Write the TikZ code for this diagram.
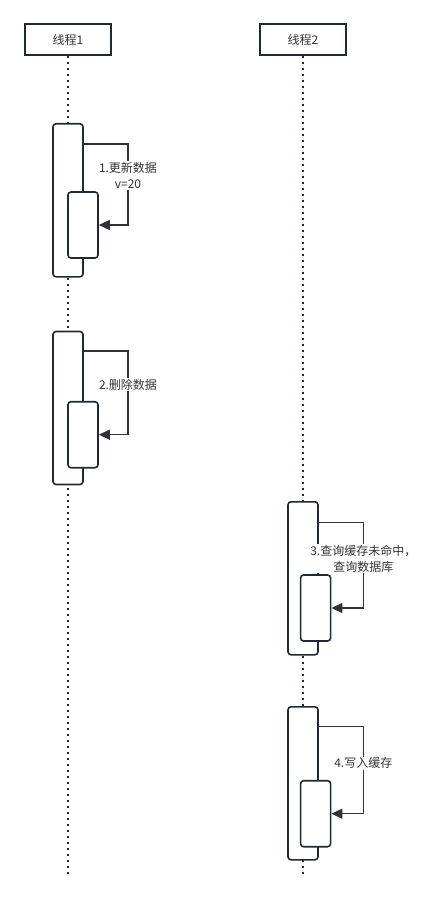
\documentclass[tikz,border=0pt]{standalone}
\usepackage{fontspec}
\setmainfont{Noto Sans CJK SC}
\usetikzlibrary{arrows.meta}
\definecolor{edge}{HTML}{1F2A35}
\definecolor{txt}{HTML}{333333}
\tikzset{
  head/.style={draw=edge, line width=1.6pt, fill=white, minimum width=86pt, minimum height=31pt, inner sep=0pt, text=txt, font=\fontsize{12pt}{14pt}\selectfont},
  life/.style={draw=edge, line width=2pt, dash pattern=on 2.5pt off 3.5pt},
  actbox/.style={draw=edge, line width=1.6pt, fill=white, rounded corners=3pt, minimum width=30pt, inner sep=0pt},
  msg/.style={draw=txt, line width=1.5pt, -{Triangle[length=11pt,width=10pt]}},
  lbl/.style={fill=white, text=txt, inner sep=1pt, align=center, font=\fontsize{12pt}{16pt}\selectfont}
}
\begin{document}
\begin{tikzpicture}[x=1pt,y=-1pt]
\useasboundingbox (0,0) rectangle (435,901);
% headers
\node[head] (h1) at (68,39.5) {线程1};
\node[head] (h2) at (303,39.5) {线程2};
\coordinate (e1) at (68,875);
\coordinate (e2) at (303,875);
\draw[life] (h1.south) -- (e1);
\draw[life] (h2.south) -- (e2);
% activations thread 1
\node[actbox, minimum height=153pt] (o1) at (68,200.3) {};
\node[actbox, minimum height=66pt] (i1) at (83,225) {};
\node[actbox, minimum height=153pt] (o2) at (68,408) {};
\node[actbox, minimum height=66pt] (i2) at (83,434.7) {};
% activations thread 2
\node[actbox, minimum height=153pt] (o3) at (303,578.3) {};
\node[actbox, minimum height=66pt] (i3) at (315.6,608) {};
\node[actbox, minimum height=153pt] (o4) at (303,783.3) {};
\node[actbox, minimum height=66pt] (i4) at (315.6,813.7) {};
% messages
\coordinate (c1) at (128,144);
\coordinate (c2) at (128,351);
\coordinate (c3) at (363.3,522.3);
\coordinate (c4) at (363.3,726.7);
\draw[msg] (o1.east |- c1) -- (c1) |- (i1.east);
\draw[msg] (o2.east |- c2) -- (c2) |- (i2.east);
\draw[msg] (o3.east |- c3) -- (c3) |- (i3.east);
\draw[msg] (o4.east |- c4) -- (c4) |- (i4.east);
\node[lbl] (l1) at (128,175.5) {1.更新数据\\v=20};
\node[lbl] (l2) at (128,384.5) {2.删除数据};
\node[lbl] (l3) at (363.3,558.7) {3.查询缓存未命中，\\查询数据库};
\node[lbl] (l4) at (363.3,763.3) {4.写入缓存};
\end{tikzpicture}
\end{document}
